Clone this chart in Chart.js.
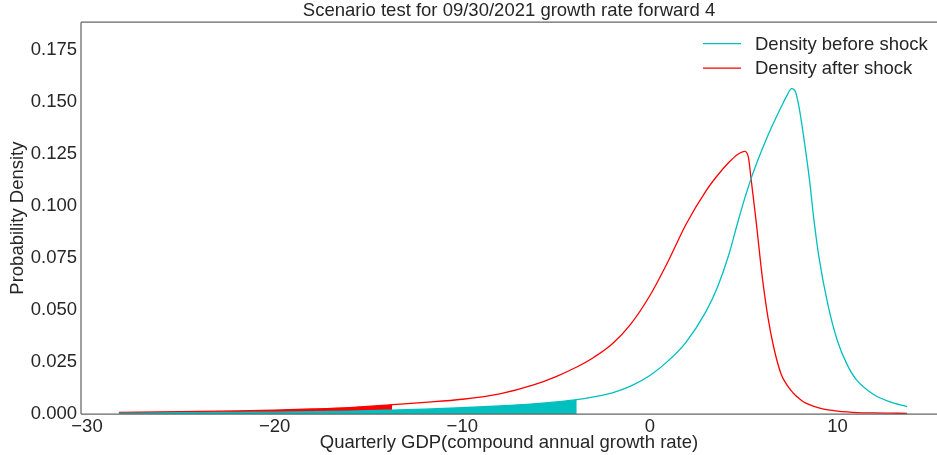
<!DOCTYPE html>
<html>
<head>
<meta charset="utf-8">
<script src="https://cdn.jsdelivr.net/npm/chart.js@4.4.0/dist/chart.umd.min.js"></script>
<style>
html, body { margin: 0; padding: 0; background: #fff; }
</style>
</head>
<body>
<canvas id="myChart" width="937" height="455"></canvas>
<script>
// growth rate grid (x) and the two densities
const gdpGrid = [-28.3, -25, -22, -20, -18, -16, -14.5, -13.73, -12, -10, -8, -6.2, -5, -3.9, -3, -2, -1, 0, 1, 1.92, 3, 3.62, 4.2, 4.69, 5.06, 5.25, 5.38, 5.65, 6.0, 6.3, 6.6, 7.0, 7.3, 7.55, 7.75, 7.95, 8.2, 8.5, 8.74, 9.0, 9.5, 10, 10.5, 11, 11.9, 12.8, 13.7];
const densityBefore = [0.0004, 0.0006, 0.0008, 0.0009, 0.0011, 0.0014, 0.0017, 0.0019, 0.0023, 0.0030, 0.0039, 0.0049, 0.0058, 0.0069, 0.0082, 0.0102, 0.0135, 0.0185, 0.0258, 0.0345, 0.0495, 0.0615, 0.0765, 0.0925, 0.1040, 0.1093, 0.1130, 0.1197, 0.1277, 0.1342, 0.1402, 0.1478, 0.1532, 0.1565, 0.1552, 0.1475, 0.1330, 0.1130, 0.0935, 0.0760, 0.0520, 0.0350, 0.0240, 0.0165, 0.0095, 0.0058, 0.0035];
const densityAfter = [0.0008, 0.0011, 0.0015, 0.0019, 0.0024, 0.0031, 0.0040, 0.0045, 0.0056, 0.0071, 0.0097, 0.0140, 0.0180, 0.0226, 0.0272, 0.0338, 0.0435, 0.0570, 0.0740, 0.0912, 0.1075, 0.1150, 0.1210, 0.1250, 0.1264, 0.1235, 0.1140, 0.0935, 0.0650, 0.0460, 0.0320, 0.0190, 0.0140, 0.0110, 0.0090, 0.0075, 0.0058, 0.0045, 0.0037, 0.0030, 0.0020, 0.0014, 0.0010, 0.0007, 0.0005, 0.0004, 0.0003];
const beforeTailCut = -3.9;   // shaded tail ends here (cyan)
const afterTailCut = -13.73;  // shaded tail ends here (red)
const xTicks = [-30, -20, -10, 0, 10];
const yTicks = [0, 0.025, 0.05, 0.075, 0.1, 0.125, 0.15, 0.175];

const FONT = '"Liberation Sans", Arial, sans-serif';
const FSIZE = 18.5;
const TEXT = '#262626';
const CYAN = '#00BFBF';
const RED = '#FF0000';

const pts = (ys) => gdpGrid.map((x, i) => ({x: x, y: ys[i]}));
const tail = (ys, cut) => pts(ys).filter(p => p.x <= cut);

// axes frame (left, top, bottom spines)
const spines = {
    id: 'spines',
    afterDatasetsDraw(chart) {
        const {ctx, chartArea: a} = chart;
        ctx.save();
        ctx.strokeStyle = '#666';
        ctx.lineWidth = 1.25;
        ctx.beginPath();
        ctx.moveTo(a.left, a.top); ctx.lineTo(a.right, a.top);
        ctx.moveTo(a.left, a.top); ctx.lineTo(a.left, a.bottom);
        ctx.moveTo(a.left, a.bottom); ctx.lineTo(a.right, a.bottom);
        ctx.stroke();
        ctx.restore();
    }
};

// upper-right legend stacked in two rows, no frame
const cornerLegend = {
    id: 'cornerLegend',
    afterDraw(chart) {
        const {ctx, chartArea: a} = chart;
        const items = chart.data.datasets.filter(d => d.inLegend);
        ctx.save();
        ctx.font = FSIZE + 'px ' + FONT;
        ctx.textBaseline = 'middle';
        items.forEach((d, i) => {
            const y = a.top + 21.5 + i * 24.5;
            const x0 = a.right - 234;
            ctx.strokeStyle = d.borderColor;
            ctx.lineWidth = 1.3;
            ctx.beginPath(); ctx.moveTo(x0, y); ctx.lineTo(x0 + 38, y); ctx.stroke();
            ctx.fillStyle = TEXT;
            ctx.fillText(d.label, x0 + 52, y + 1);
        });
        ctx.restore();
    }
};

new Chart(document.getElementById('myChart'), {
    type: 'line',
    data: {
        datasets: [
            {label: 'Density before shock', inLegend: true, data: pts(densityBefore), borderColor: CYAN, borderWidth: 1.3, pointRadius: 0, fill: false, cubicInterpolationMode: 'monotone'},
            {label: 'Density after shock', inLegend: true, data: pts(densityAfter), borderColor: RED, borderWidth: 1.3, pointRadius: 0, fill: false, cubicInterpolationMode: 'monotone'},
            {label: 'tail before', data: tail(densityBefore, beforeTailCut), borderWidth: 0, pointRadius: 0, backgroundColor: CYAN, fill: 'origin', cubicInterpolationMode: 'monotone'},
            {label: 'tail after', data: tail(densityAfter, afterTailCut), borderWidth: 0, pointRadius: 0, backgroundColor: RED, fill: 'origin', cubicInterpolationMode: 'monotone'}
        ]
    },
    options: {
        responsive: false,
        animation: false,
        layout: {padding: 0},
        plugins: {
            legend: {display: false},
            tooltip: {enabled: false},
            title: {
                display: true,
                fullSize: false,
                text: 'Scenario test for 09/30/2021 growth rate forward 4',
                color: TEXT,
                font: {family: FONT, size: FSIZE, weight: 'normal', lineHeight: 1.2},
                padding: {top: 0, bottom: 0}
            }
        },
        scales: {
            x: {
                type: 'linear',
                min: -30.32,
                max: 15.3,
                grid: {display: false, drawTicks: false},
                border: {display: false},
                afterBuildTicks: (axis) => { axis.ticks = xTicks.map(v => ({value: v})); },
                afterFit: (axis) => { axis.height = 41; },
                ticks: {
                    color: TEXT,
                    font: {family: FONT, size: FSIZE},
                    padding: 2,
                    maxRotation: 0,
                    callback: (v) => v < 0 ? '\u2212' + Math.abs(v) : String(v)
                },
                title: {
                    display: true,
                    text: 'Quarterly GDP(compound annual growth rate)',
                    color: TEXT,
                    font: {family: FONT, size: FSIZE},
                    padding: {top: 0, bottom: 1}
                }
            },
            y: {
                min: 0,
                max: 0.1885,
                grid: {display: false, drawTicks: false},
                border: {display: false},
                afterBuildTicks: (axis) => { axis.ticks = yTicks.map(v => ({value: v})); },
                afterFit: (axis) => { axis.width = 81; },
                ticks: {
                    color: TEXT,
                    font: {family: FONT, size: FSIZE},
                    padding: 4,
                    callback: (v) => v.toFixed(3)
                },
                title: {
                    display: true,
                    text: 'Probability Density',
                    color: TEXT,
                    font: {family: FONT, size: FSIZE},
                    padding: {top: 7, bottom: 0}
                }
            }
        }
    },
    plugins: [spines, cornerLegend]
});
</script>
</body>
</html>
